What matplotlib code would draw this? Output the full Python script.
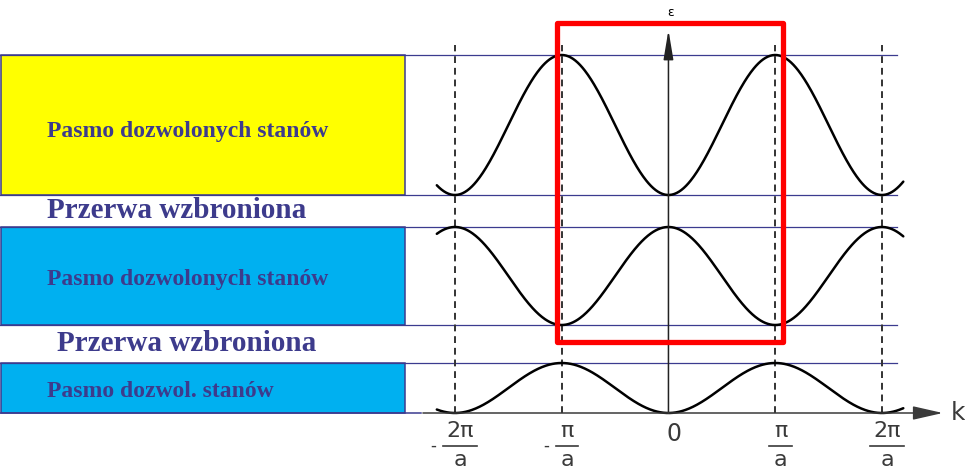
import numpy as np
import matplotlib
matplotlib.use("Agg")
import matplotlib.pyplot as plt
from matplotlib.patches import Rectangle

# Energy bands: edges (arbitrary energy units), fill colours and labels
band_bottom = [21.8, 8.8, 0.0]
band_top = [35.8, 18.6, 5.0]
band_min_at_zero = [True, False, True]
band_colors = ["#ffff00", "#00b0f0", "#00b0f0"]
band_labels = ["Pasmo dozwolonych stanów", "Pasmo dozwolonych stanów", "Pasmo dozwol. stanów"]
gap_label = "Przerwa wzbroniona"

# k axis ticks (in units of pi/a)
tick_k = [-2, -1, 0, 1, 2]
tick_sign = ["-", "-", "", "", ""]
tick_num = ["2π", "π", "0", "π", "2π"]
tick_den = ["a", "a", "", "a", "a"]

LINE_NAVY = "#3b3b8f"
TEXT_NAVY = "#3d3b8c"
AXIS_GREY = "#3a3a3a"

fig = plt.figure(figsize=(9.65, 4.70), dpi=100)
ax = fig.add_axes([0, 0, 1, 1])
ax.set_xlim(-6.262, 2.778)
ax.set_ylim(-5.7, 41.3)
ax.axis("off")

X_LEFT = -6.262      # left edge of the band boxes
X_BOX_RIGHT = -2.468  # right edge of the band boxes
X_LINE_END = 2.14     # end of the band-edge lines

# coloured band boxes on the left
for lo, hi, col in zip(band_bottom, band_top, band_colors):
    ax.add_patch(Rectangle((X_LEFT + 0.005, lo), X_BOX_RIGHT - X_LEFT - 0.005, hi - lo,
                           facecolor=col, edgecolor=LINE_NAVY, lw=1.1, zorder=1))

# band-edge lines across the diagram
for lo, hi in zip(band_bottom, band_top):
    ax.plot([X_LEFT, X_LINE_END], [hi, hi], color=LINE_NAVY, lw=0.9, zorder=2)
    if lo > 0:
        ax.plot([X_LEFT, X_LINE_END], [lo, lo], color=LINE_NAVY, lw=0.9, zorder=2)
ax.plot([X_LEFT, -2.32], [0, 0], color=LINE_NAVY, lw=1.1, zorder=2)

# band labels
label_font = dict(family="Liberation Serif", weight="bold", color=TEXT_NAVY)
label_y = [27.6, 12.8, 1.6]
for txt, y in zip(band_labels, label_y):
    ax.text(-5.82, y, txt, fontsize=17, va="baseline", ha="left", zorder=3, **label_font)
ax.text(-5.82, 19.5, gap_label, fontsize=21, va="baseline", ha="left", zorder=3, **label_font)
ax.text(-5.73, 6.2, gap_label, fontsize=21, va="baseline", ha="left", zorder=3, **label_font)

# dashed zone boundaries
for k in [-2, -1, 1, 2]:
    ax.plot([k, k], [0, 36.8], color="#333333", lw=1.4, ls=(0, (3.5, 2.5)), zorder=2)

# dispersion curves E(k)
k = np.linspace(-2.17, 2.2, 600)
for lo, hi, at_min in zip(band_bottom, band_top, band_min_at_zero):
    shape = (1 - np.cos(np.pi * k)) / 2 if at_min else (1 + np.cos(np.pi * k)) / 2
    ax.plot(k, lo + (hi - lo) * shape, color="black", lw=1.8, zorder=4,
            solid_capstyle="round")

# energy axis
ax.annotate("", xy=(0, 38.3), xytext=(0, 0),
            arrowprops=dict(arrowstyle="-|>,head_length=1.8,head_width=0.3",
                            mutation_scale=10, color="#222222", lw=1.1,
                            shrinkA=0, shrinkB=0), zorder=5)
ax.text(0.02, 40.0, "ε", fontsize=9, ha="center", va="center", color="black")

# k axis
ax.annotate("", xy=(2.57, 0), xytext=(-2.3, 0),
            arrowprops=dict(arrowstyle="-|>,head_length=1.85,head_width=0.42",
                            mutation_scale=10, color=AXIS_GREY, lw=1.1,
                            shrinkA=0, shrinkB=0), zorder=5)
ax.text(2.64, 0.0, "k", fontsize=18, ha="left", va="center", color=AXIS_GREY,
        family="DejaVu Sans")

# tick labels as stacked fractions
tick_font = dict(family="DejaVu Sans", color=AXIS_GREY)
for kt, sgn, num, den in zip(tick_k, tick_sign, tick_num, tick_den):
    xc = kt + 0.05
    if den:
        ax.text(xc, -1.8, num, fontsize=16, ha="center", va="center", **tick_font)
        half = 0.16 if len(num) > 1 else 0.105
        ax.plot([xc - half, xc + half], [-3.3, -3.3], color=AXIS_GREY, lw=1.2)
        ax.text(xc, -4.75, den, fontsize=16, ha="center", va="center", **tick_font)
        if sgn:
            ax.text(xc - half - 0.09, -3.3, sgn, fontsize=12, ha="center", va="center",
                    **tick_font)
    else:
        ax.text(xc, -2.1, num, fontsize=17, ha="center", va="center", **tick_font)

# highlighted first Brillouin zone
ax.add_patch(Rectangle((-1.044, 7.1), 2.117, 31.9, fill=False, edgecolor="#ff0000",
                       lw=3.8, joinstyle="round", zorder=6))

fig.savefig("out.png", dpi=100)
